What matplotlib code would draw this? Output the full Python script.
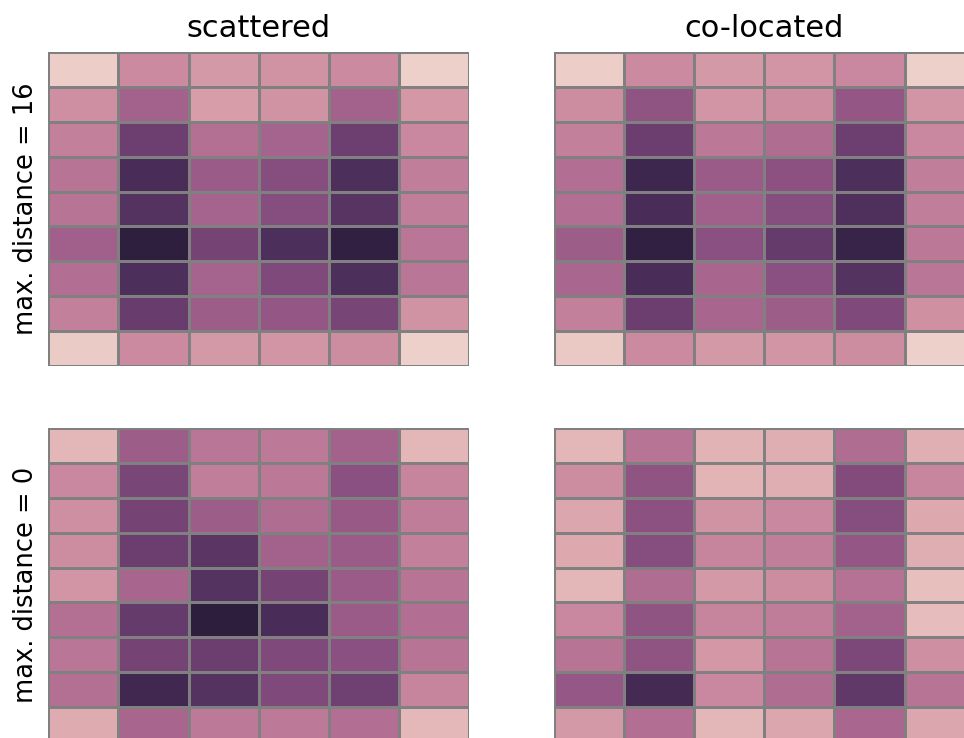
import numpy as np
import matplotlib
matplotlib.use("Agg")
import matplotlib.pyplot as plt
import seaborn as sns

col_titles = ["scattered", "co-located"]
row_labels = ["max. distance = 16", "max. distance = 0"]

scattered_16 = [
    [0.02, 0.32, 0.25, 0.28, 0.32, 0.01],
    [0.30, 0.53, 0.23, 0.28, 0.53, 0.26],
    [0.37, 0.75, 0.45, 0.52, 0.75, 0.33],
    [0.43, 0.89, 0.57, 0.65, 0.87, 0.38],
    [0.43, 0.84, 0.52, 0.65, 0.83, 0.38],
    [0.54, 0.99, 0.72, 0.87, 0.98, 0.42],
    [0.46, 0.87, 0.52, 0.68, 0.87, 0.42],
    [0.37, 0.77, 0.56, 0.60, 0.71, 0.28],
    [0.03, 0.32, 0.25, 0.27, 0.31, 0.01],
]
colocated_16 = [
    [0.02, 0.32, 0.25, 0.27, 0.33, 0.01],
    [0.31, 0.61, 0.27, 0.31, 0.60, 0.27],
    [0.37, 0.76, 0.41, 0.47, 0.75, 0.33],
    [0.46, 0.93, 0.57, 0.63, 0.87, 0.38],
    [0.46, 0.89, 0.54, 0.65, 0.86, 0.38],
    [0.56, 0.98, 0.64, 0.78, 0.95, 0.41],
    [0.50, 0.89, 0.51, 0.64, 0.84, 0.42],
    [0.37, 0.76, 0.51, 0.56, 0.68, 0.29],
    [0.04, 0.32, 0.25, 0.27, 0.31, 0.01],
]
scattered_0 = [
    [0.12, 0.56, 0.42, 0.40, 0.53, 0.12],
    [0.33, 0.70, 0.38, 0.41, 0.64, 0.35],
    [0.30, 0.72, 0.56, 0.47, 0.58, 0.39],
    [0.31, 0.76, 0.82, 0.53, 0.57, 0.37],
    [0.27, 0.51, 0.84, 0.72, 0.57, 0.43],
    [0.45, 0.78, 1.00, 0.89, 0.57, 0.46],
    [0.42, 0.72, 0.76, 0.68, 0.64, 0.43],
    [0.45, 0.92, 0.84, 0.68, 0.74, 0.35],
    [0.17, 0.51, 0.40, 0.40, 0.46, 0.11],
]
colocated_0 = [
    [0.12, 0.43, 0.14, 0.16, 0.47, 0.15],
    [0.31, 0.61, 0.13, 0.16, 0.67, 0.34],
    [0.19, 0.63, 0.28, 0.33, 0.65, 0.18],
    [0.18, 0.65, 0.35, 0.38, 0.60, 0.16],
    [0.12, 0.47, 0.25, 0.31, 0.44, 0.08],
    [0.33, 0.61, 0.35, 0.39, 0.53, 0.09],
    [0.43, 0.61, 0.26, 0.43, 0.69, 0.30],
    [0.59, 0.90, 0.33, 0.47, 0.80, 0.43],
    [0.25, 0.46, 0.12, 0.19, 0.50, 0.19],
]

panels = [[scattered_16, colocated_16], [scattered_0, colocated_0]]

W, H = 964, 738
fig = plt.figure(figsize=(W / 100, H / 100), dpi=100)
cmap = sns.cubehelix_palette(as_cmap=True)

lefts = [48.3, 553.7]
tops = [52.3, 428.3]
pw, ph = 421.0, 313.4

for r in range(2):
    for c in range(2):
        ax = fig.add_axes([lefts[c] / W, (H - tops[r] - ph) / H, pw / W, ph / H])
        sns.heatmap(np.array(panels[r][c]), ax=ax, cmap=cmap, vmin=0, vmax=1,
                    cbar=False, linewidths=0.8, linecolor="gray",
                    xticklabels=False, yticklabels=False)
        if r == 0:
            ax.set_title(col_titles[c], fontsize=22, pad=11)
        if c == 0:
            ax.set_ylabel(row_labels[r], fontsize=18.5, labelpad=7)

fig.savefig("out.png", dpi=100)
